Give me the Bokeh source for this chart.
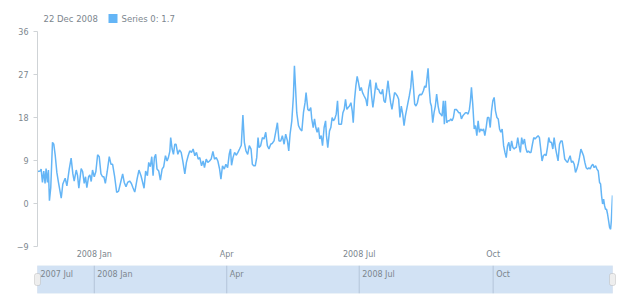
import pandas as pd
from bokeh.plotting import figure
from bokeh.models import Range1d, FixedTicker, BoxAnnotation, Label
from bokeh.layouts import column
from bokeh.embed import file_html
from bokeh.resources import INLINE
from bokeh.core.properties import value

# ---------------- data ----------------
start_date = "2007-11-23"
series_name = "Series 0"

days = [
    0.0, 1.8, 2.5, 3.4, 4.3, 5.2, 5.9, 6.8, 7.5, 8.2, 9.1, 10.3, 11.2, 12.1, 13.3, 14.4, 16.3, 17.4, 19.0, 20.2,
    21.8, 23.1, 24.3, 25.2, 26.6, 27.5, 28.4, 30.0, 31.0, 32.1, 33.0, 33.9, 35.1, 36.0, 36.9, 37.8, 39.0, 40.1,
    41.3, 42.4, 43.6, 44.7, 45.6, 46.6, 47.9, 49.3, 50.5, 51.6, 53.0, 54.4, 55.7, 57.1, 58.5, 59.6, 60.8, 61.9,
    63.3, 64.5, 65.6, 66.8,
    67.2, 68.4, 69.7, 71.1, 72.0, 73.2, 74.3, 75.5, 76.4, 77.5, 78.5, 79.4, 80.3, 81.2, 82.1, 83.3, 84.4, 85.6,
    86.7, 87.9, 89.0, 89.9, 90.9, 91.5, 92.5, 93.4, 94.3, 95.2, 96.4, 97.5, 98.7, 99.8, 101.2, 102.3, 103.5,
    104.6, 105.8, 106.9, 108.1, 109.2, 110.4, 111.5, 112.7, 113.8, 114.7, 115.9, 117.0, 118.2, 119.3, 120.5,
    121.6, 122.8, 123.9, 125.1, 126.0, 127.1, 128.3, 129.4, 130.6, 131.7, 132.6,
    133.3, 134.3, 135.4, 136.5, 137.7, 138.8, 140.0, 141.1, 142.1, 143.2, 144.4, 145.5, 146.7, 147.6, 148.5,
    149.6, 150.6, 151.5, 152.2, 153.3, 154.5, 155.6, 156.8, 157.9, 159.0, 160.2, 161.3, 162.5, 163.6, 164.8,
    165.9, 167.1, 168.2, 169.4, 170.5, 171.7, 172.6, 173.5, 174.7, 175.8, 176.5, 177.2, 178.1, 179.3, 180.4,
    181.6, 182.7, 183.8, 184.5, 185.7, 186.6, 187.7, 188.4, 189.4, 190.3, 191.2, 192.1, 193.0, 193.9, 194.9,
    195.8, 196.9, 197.9,
    198.5, 199.4, 200.6, 201.5, 202.4, 203.3, 204.2, 205.2, 206.1, 207.0, 207.9, 208.8, 209.8, 210.7, 211.6,
    212.5, 213.4, 214.3, 215.3, 216.2, 216.9, 217.8, 218.7, 219.6, 220.5, 221.5, 222.4, 223.3, 224.4, 225.6,
    226.5, 227.4, 228.6, 229.5, 230.4, 231.3, 232.5, 233.4, 234.3, 235.2, 236.2, 237.1, 238.0, 238.9, 239.8,
    240.8, 241.7, 242.6, 243.5, 244.4, 245.3, 246.3, 247.2, 248.1, 249.0, 249.9, 250.9, 251.8, 252.7, 253.6,
    254.5, 255.4, 256.4, 257.3, 258.2, 259.1, 260.0, 261.0, 261.9, 262.8, 263.5,
    264.1, 265.1, 266.0, 266.9, 268.3, 269.2, 269.9, 270.6, 271.5, 272.4, 273.3, 274.2, 275.2, 276.1, 277.0,
    277.9, 278.8, 279.5, 280.2, 281.1, 282.0, 283.0, 283.9, 284.8, 285.7, 286.6, 287.6, 288.5, 289.4, 290.3,
    291.2, 292.1, 293.1, 294.0, 294.9, 295.8, 296.7, 297.4, 298.1, 299.0, 300.0, 300.9, 301.8, 302.7, 303.6,
    304.5, 305.5, 306.4, 307.3, 308.2, 309.1, 310.1, 311.0, 311.9, 312.8, 313.7, 314.6, 315.6, 316.5, 317.4,
    318.3, 319.2, 320.2, 321.1, 322.0, 322.9, 323.8, 324.7, 325.7, 326.6, 327.5, 328.4,
    328.9, 329.9, 330.8, 331.7, 332.6, 333.5, 334.5, 335.4, 336.3, 337.2, 338.1, 339.0, 340.0, 340.9, 341.8,
    342.7, 343.9, 344.8, 345.7, 346.6, 347.5, 348.5, 349.4, 350.3, 351.2, 352.1, 353.1, 354.0, 354.9, 355.8,
    356.7, 357.6, 358.6, 359.5, 360.4, 361.3, 362.2, 363.2, 364.1, 365.0, 365.9, 366.8, 367.7, 368.7, 369.6,
    370.5, 371.4, 372.3, 373.3, 374.2, 375.1, 376.0, 376.9, 377.8, 378.8, 379.7, 380.6, 381.5, 382.4, 383.4,
    384.3, 385.2, 386.1, 386.8, 387.5, 388.2, 388.9, 389.6, 390.2, 390.9, 391.6, 392.3, 393.0, 393.7, 394.2,
    394.6, 395.0,
]

values = [
    6.7, 6.8, 7.2, 4.4, 6.8, 4.2, 7.3, 4.4, 7.0, 0.6, 3.3, 12.8, 12.4, 10.3, 6.5, 4.4, 1.1, 4.1, 5.3, 3.7,
    7.2, 9.5, 6.2, 4.7, 7.0, 5.9, 3.2, 7.3, 6.7, 4.2, 5.6, 3.3, 5.6, 6.0, 4.6, 7.0, 5.6, 6.7,
    10.2, 9.8, 6.2, 5.6, 5.6, 4.2, 6.7, 9.8, 8.2, 8.2, 5.6, 2.3, 2.6, 4.4, 6.2, 4.4, 3.5, 4.4,
    4.7, 4.2, 3.3, 2.4,
    3.0, 5.1, 7.0, 5.8, 4.7, 3.2, 6.8, 5.8, 8.6, 7.7, 9.8, 5.8, 9.6, 10.3, 7.2, 6.8, 4.9, 7.2,
    7.7, 10.0, 8.9, 9.6, 10.9, 13.8, 11.4, 10.3, 12.4, 12.4, 10.3, 11.2, 10.7, 8.9, 6.2, 8.6, 10.0,
    11.0, 10.7, 11.4, 10.0, 10.7, 9.3, 9.6, 7.9, 8.9, 7.5, 9.3, 8.6, 8.9, 9.3, 10.9,
    9.3, 9.6, 8.9, 7.2, 5.1, 7.9, 7.2, 8.2, 7.5, 10.3, 11.4,
    8.0, 9.6, 10.7, 10.1, 10.7, 11.4, 12.2, 18.5, 12.8, 11.0, 10.3, 12.1, 11.4, 8.2, 7.9,
    7.9, 9.6, 13.8, 11.7, 12.1, 13.8, 13.5, 14.9, 12.1, 11.4, 12.4, 12.6, 13.1, 14.9, 16.9,
    13.1, 13.1, 14.2, 12.4, 14.5, 13.1, 11.0, 14.5, 17.3, 22.5, 28.8, 24.6, 19.0, 16.3, 15.6,
    15.2, 19.0, 21.1, 23.2, 19.7, 19.4, 20.1, 17.7, 15.9, 17.7, 15.9, 14.9, 15.9, 13.5, 14.2,
    12.1, 15.9, 17.3,
    14.2, 11.7, 15.2, 15.9, 18.0, 17.3, 17.7, 18.7, 21.5, 16.6, 16.6, 16.6, 19.0, 19.7, 21.8,
    19.7, 20.1, 20.4, 21.1, 19.4, 16.9, 21.8, 24.6, 26.6, 25.3, 23.6, 24.3, 23.2, 22.5, 21.8,
    20.4, 23.9, 25.9, 22.5, 20.1, 22.2, 25.3, 23.9, 23.9, 23.2, 22.9, 23.9, 21.5, 21.1, 23.2,
    25.7, 23.2, 21.1, 19.7, 21.5, 23.2, 22.9, 22.5, 21.8, 18.0, 20.4, 18.7, 16.3, 18.3, 19.7,
    21.1, 22.5, 24.3, 27.8, 24.6, 20.8, 20.4, 21.1, 22.5, 22.9, 22.7,
    22.9, 23.6, 24.6, 24.3, 28.3, 23.6, 21.1, 20.4, 16.9, 19.0, 20.4, 22.9, 20.4, 19.0, 18.7,
    18.3, 21.5, 16.6, 21.5, 16.9, 17.3, 17.3, 17.7, 17.3, 18.0, 19.7, 19.7, 19.4, 19.0, 19.0,
    17.7, 18.3, 18.7, 19.0, 19.0, 18.7, 19.7, 21.5, 24.3, 20.8, 15.6, 16.3, 14.2, 17.3, 14.9,
    15.6, 15.2, 15.6, 14.2, 15.9, 18.0, 18.0, 15.9, 19.4, 21.5, 22.2, 19.4, 18.0, 17.7, 15.6,
    14.9, 15.6, 12.1, 10.7, 9.6, 12.1, 12.8, 11.0, 13.1, 11.7, 11.4, 11.7,
    11.7, 13.8, 12.1, 10.7, 13.8, 12.4, 13.5, 11.7, 10.7, 11.0, 10.7, 10.7, 12.4, 13.8, 13.5,
    13.8, 14.2, 13.8, 11.4, 8.9, 10.0, 10.3, 10.0, 11.7, 13.8, 12.8, 12.8, 11.4, 13.8, 11.7,
    10.3, 8.9, 12.4, 13.1, 13.1, 11.4, 9.3, 8.9, 8.6, 9.3, 10.0, 8.6, 8.9, 8.2, 6.5,
    7.2, 8.2, 9.6, 11.4, 10.7, 10.0, 8.6, 7.5, 7.2, 7.5, 7.2, 7.9, 8.2, 7.5, 7.9,
    7.2, 6.8, 4.4, 4.1, 1.6, -0.1, 0.9, -0.5, -1.2, -1.2, -2.2, -3.6, -5.0, -5.4, -3.6,
    -0.8, 1.7,
]

y_ticks = [-9, 0, 9, 18, 27, 36]
x_tick_dates = ["2008-01-01", "2008-04-01", "2008-07-01", "2008-10-01"]
x_tick_labels = ["2008 Jan", "Apr", "2008 Jul", "Oct"]
scroller_label_dates = ["2007-07-01", "2008-01-01", "2008-04-01", "2008-07-01", "2008-10-01"]
scroller_labels = ["2007 Jul", "2008 Jan", "Apr", "2008 Jul", "Oct"]

# ---------------- derived ----------------
t0 = pd.Timestamp(start_date)
dates = [t0 + pd.Timedelta(days=d) for d in days]
x_start, x_end = dates[0], dates[-1]


def ms(d):
    return pd.Timestamp(d).value / 1e6


tick_ms = [ms(d) for d in x_tick_dates]

FONT = "DejaVu Sans"
TXT = "#7c868e"
LINE = "#64b5f6"
AXIS = "#cfd3d6"
W = 620
LEFT, RIGHT = 37, 8
FRAME_W = W - LEFT - RIGHT


def bare(fig):
    fig.outline_line_color = None
    fig.grid.visible = False
    fig.background_fill_color = "white"
    fig.border_fill_color = "white"


# ---------------- header (legend line) ----------------
HDR_H = 26
h = figure(width=W, height=HDR_H, x_range=Range1d(0, W), y_range=Range1d(0, HDR_H),
           x_axis_type=None, y_axis_type=None, output_backend="svg", toolbar_location=None,
           min_border_left=0, min_border_right=0, min_border_top=0, min_border_bottom=0)
bare(h)
leg_y = HDR_H - 18
h.add_layout(Label(x=43, y=leg_y, text=x_end.strftime("%d %b %Y"), text_baseline="middle",
                   text_font=FONT, text_font_size="8.5px", text_color=TXT))
h.scatter(x=[112.5], y=[leg_y], marker="square", size=9, fill_color=LINE, line_color=None)
h.add_layout(Label(x=121, y=leg_y, text=f"{series_name}: {values[-1]}", text_baseline="middle",
                   text_font=FONT, text_font_size="8.5px", text_color=TXT))

# ---------------- main chart ----------------
p = figure(width=W, height=236, x_axis_type="datetime",
           x_range=Range1d(x_start, x_end), y_range=Range1d(y_ticks[0], y_ticks[-1]),
           output_backend="svg", toolbar_location=None,
           min_border_left=LEFT, min_border_right=RIGHT, min_border_top=5, min_border_bottom=16)
bare(p)
p.line(dates, values, line_color=LINE, line_width=1.5)

ya = p.yaxis[0]
ya.ticker = FixedTicker(ticks=y_ticks)
ya.axis_line_color = AXIS
ya.major_tick_line_color = AXIS
ya.major_tick_in = 0
ya.major_tick_out = 4
ya.minor_tick_line_color = None
ya.major_label_standoff = 5
ya.major_label_text_font = FONT
ya.major_label_text_font_size = "8px"
ya.major_label_text_color = TXT

xa = p.xaxis[0]
xa.ticker = FixedTicker(ticks=tick_ms)
xa.major_label_overrides = {t: lab for t, lab in zip(tick_ms, x_tick_labels)}
xa.axis_line_color = None
xa.major_tick_line_color = None
xa.minor_tick_line_color = None
xa.major_tick_in = 0
xa.major_tick_out = 0
xa.major_label_standoff = 3
xa.major_label_text_font = FONT
xa.major_label_text_font_size = "8px"
xa.major_label_text_color = TXT

# ---------------- scroller ----------------
SC_H = 28
pad_l, pad_r = 7, 6
ms_per_px = (ms(x_end) - ms(x_start)) / FRAME_W
s_range = Range1d(ms(x_start) - pad_l * ms_per_px, ms(x_end) + pad_r * ms_per_px)
s = figure(width=W, height=38, x_range=s_range, y_range=Range1d(0, SC_H),
           x_axis_type=None, y_axis_type=None,
           output_backend="svg", toolbar_location=None,
           min_border_left=LEFT - pad_l, min_border_right=RIGHT - pad_r,
           min_border_top=3, min_border_bottom=7)
bare(s)

s.add_layout(BoxAnnotation(left=ms(x_start), right=ms(x_end), fill_color="#d2e2f4", fill_alpha=1.0,
                           line_color="#bccde0", line_width=1, level="underlay"))
sep_x = [pd.Timestamp(d) for d in x_tick_dates]
s.segment(x0=sep_x, y0=[0] * len(sep_x), x1=sep_x, y1=[SC_H] * len(sep_x),
          line_color="#b4c5d9", line_width=1)
lab_x = [max(pd.Timestamp(d), x_start) for d in scroller_label_dates]
s.text(x=lab_x, y=[SC_H] * len(lab_x), text=scroller_labels,
       text_align="left", text_baseline="top", x_offset=3, y_offset=4,
       text_font=value(FONT), text_font_size="8px", text_color=TXT)
for edge in (ms(x_start), ms(x_end)):
    s.add_layout(BoxAnnotation(left=edge - 3 * ms_per_px, right=edge + 3 * ms_per_px,
                               bottom=8, top=20,
                               fill_color="#eeeeee", fill_alpha=1.0,
                               line_color="#9a9a9a", line_width=1, border_radius=2))

layout = column(column(h), column(p), column(s), spacing=0)
open("out.html", "w").write(file_html(layout, INLINE))
